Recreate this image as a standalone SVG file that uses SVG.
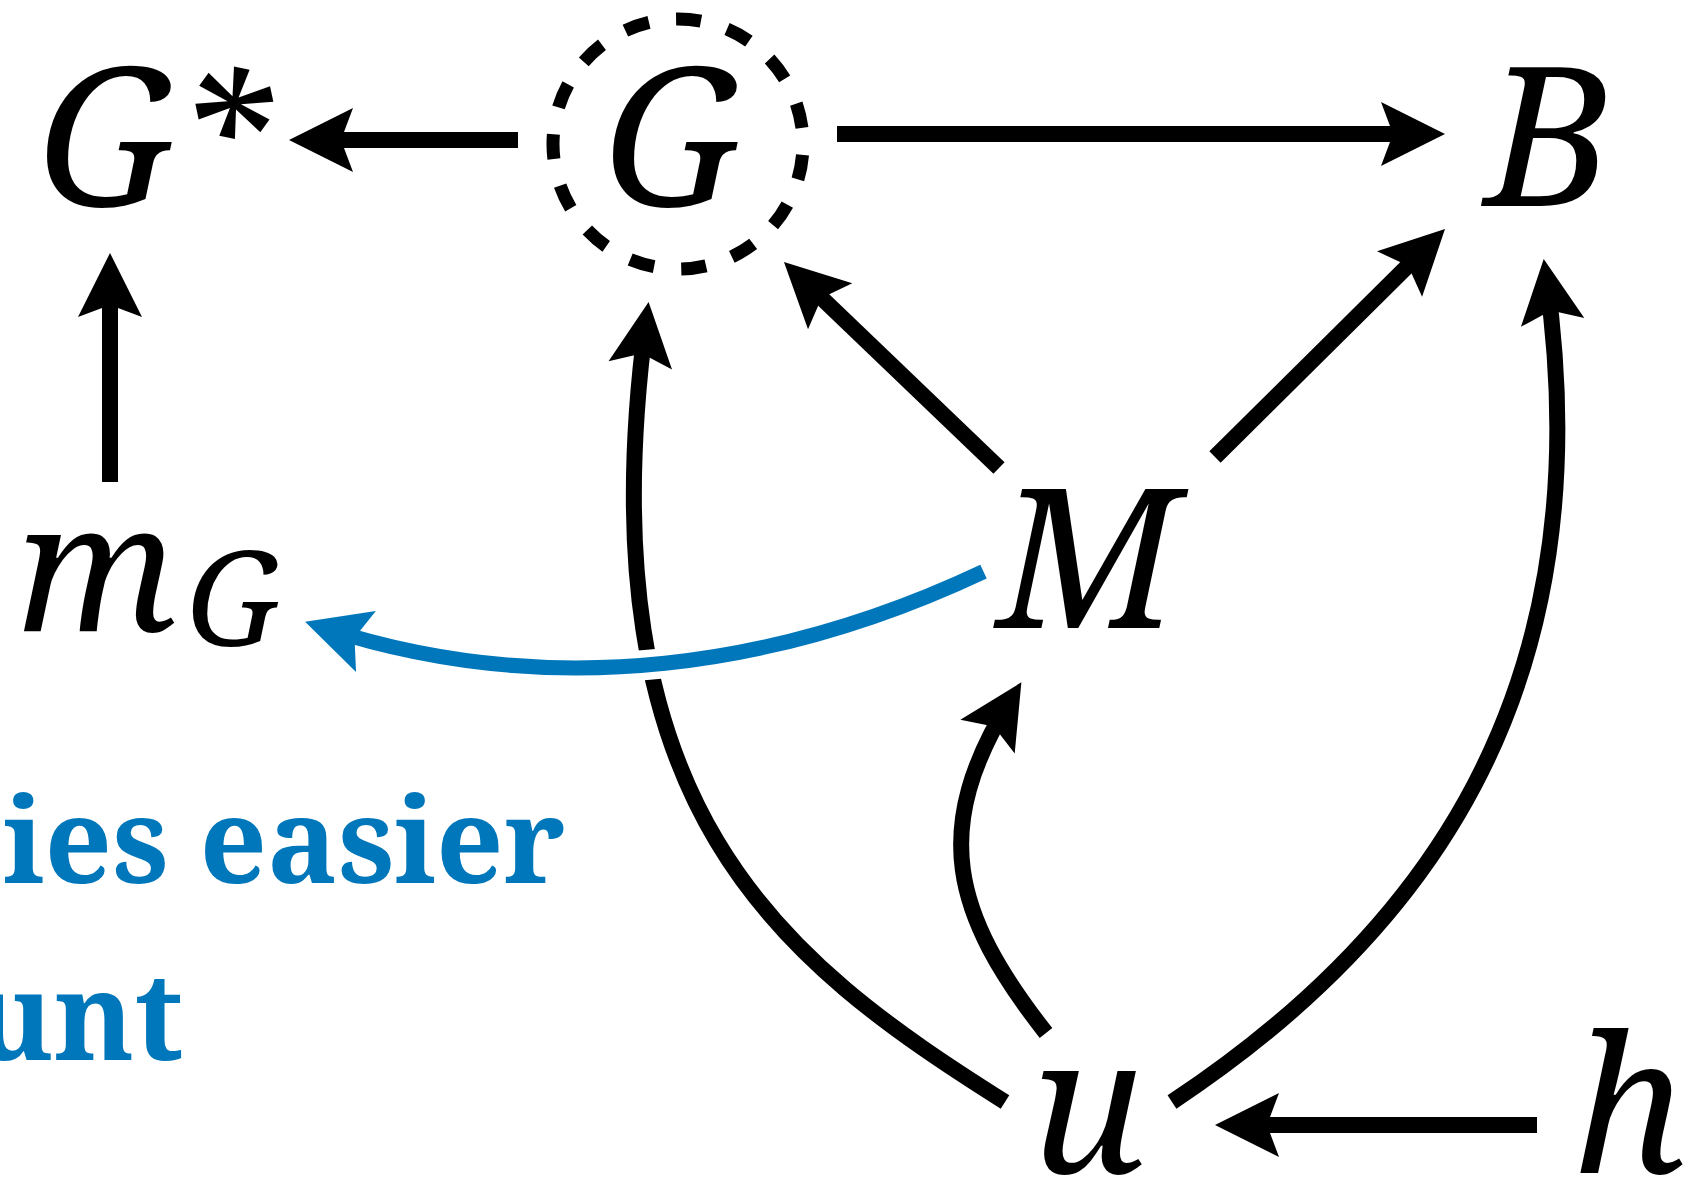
<svg xmlns="http://www.w3.org/2000/svg" width="1691" height="1197" viewBox="0 0 1691 1197">
<style>
.lbl{font-family:"Noto Serif","Liberation Serif",serif;font-style:italic;fill:#000}
.cap{font-size:193px}
.low{font-size:190px}
.blue{font-family:"Noto Serif","Liberation Serif",serif;font-weight:bold;fill:#0077bb}
.edge{fill:none;stroke:#000;stroke-width:16}
</style>
<defs>
<marker id="ah" markerUnits="userSpaceOnUse" markerWidth="64" markerHeight="64" refX="44" refY="32" orient="auto" overflow="visible">
<path d="M0,0 L64,32 L0,64 L12,32 Z" fill="#000"/>
</marker>
<marker id="ahb" markerUnits="userSpaceOnUse" markerWidth="64" markerHeight="64" refX="44" refY="32" orient="auto" overflow="visible">
<path d="M0,0 L64,32 L0,64 L12,32 Z" fill="#0077bb"/>
</marker>
</defs>
<g id="connectors">
<path class="edge" d="M518,140 L309,140" marker-end="url(#ah)"/>
<path class="edge" d="M837,134 L1425,134" marker-end="url(#ah)"/>
<path class="edge" d="M110,482 L110,273" marker-end="url(#ah)"/>
<path class="edge" d="M999,468 L798.4,275.8" marker-end="url(#ah)"/>
<path class="edge" d="M1215,457 L1430.8,243.1" marker-end="url(#ah)"/>
<path class="edge" d="M1537,1125 L1235,1125" marker-end="url(#ah)"/>
<path class="edge" d="M1046,1033 C952,913 930,829 1010.8,699.3" marker-end="url(#ah)"/>
<path class="edge" d="M1172,1102 C1421,937 1605,695 1546.5,278.8" marker-end="url(#ah)"/>
<path class="edge" d="M1005,1102 C780,960 582,810 646,321.8" marker-end="url(#ah)"/>
<path d="M983.5,571.6 C783.3,666 554.2,702.8 324.1,627.9" fill="none" stroke="#fff" stroke-width="30"/>
<path d="M983.5,571.6 C783.3,666 554.2,702.8 324.1,627.9" fill="none" stroke="#0077bb" stroke-width="15" marker-end="url(#ahb)"/>
</g>
<g id="node-Gstar">
<text class="lbl cap" x="37" y="206">G</text>
<text class="lbl" x="174" y="208" font-size="184">*</text>
</g>
<g id="node-G">
<circle cx="678" cy="144" r="125" fill="none" stroke="#000" stroke-width="13" stroke-dasharray="25 27.36" stroke-dashoffset="-10.9"/>
<text class="lbl cap" x="603" y="206">G</text>
</g>
<g id="node-B">
<text class="lbl cap" x="1485" y="206">B</text>
</g>
<g id="node-mG">
<text class="lbl" x="16" y="631" font-size="180">m</text>
<text class="lbl" x="186" y="646" font-size="132">G</text>
</g>
<g id="node-M">
<text class="lbl cap" x="997" y="628">M</text>
</g>
<g id="node-u">
<text class="lbl low" x="1031" y="1173">u</text>
</g>
<g id="node-h">
<text class="lbl low" x="1572" y="1173">h</text>
</g>
<g id="caption">
<text class="blue" x="3" y="883" style="font-size:118px">ies easier</text>
<text class="blue" x="-27" y="1060" style="font-size:121px">unt</text>
</g>
</svg>
